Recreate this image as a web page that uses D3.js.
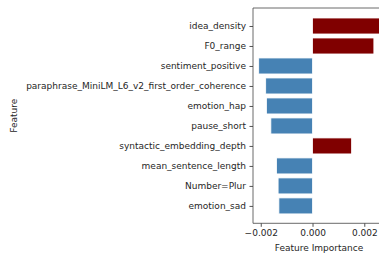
<!DOCTYPE html>
<html>
<head>
<meta charset="utf-8">
<script src="https://cdn.jsdelivr.net/npm/d3@7"></script>
<style>
  body { margin: 0; background: #fff; }
  text { font-family: "DejaVu Sans", sans-serif; fill: #262626; }
</style>
</head>
<body>
<svg id="chart"></svg>
<script>
var features = ["idea_density", "F0_range", "sentiment_positive",
    "paraphrase_MiniLM_L6_v2_first_order_coherence", "emotion_hap", "pause_short",
    "syntactic_embedding_depth", "mean_sentence_length", "Number=Plur", "emotion_sad"];
var importance = [0.0027, 0.00237, -0.00208, -0.00181, -0.00178, -0.00161,
    0.00151, -0.00139, -0.00133, -0.00130];
var xTicks = [-0.002, 0.000, 0.002];

var W = 379, H = 257;
var plotLeft = 253, plotTop = 8, plotRight = 385, plotBottom = 223.3;
var fontSize = "9px";

var svg = d3.select("#chart").attr("width", W).attr("height", H);

var x = d3.scaleLinear().domain([-0.0023, 0.0028]).range([plotLeft, plotRight]);
// matplotlib-style y limits: bars at 0..9, margins around
var y = d3.scaleLinear().domain([-0.9, 9.87]).range([plotTop, plotBottom]);
var barH = y(0.4) - y(-0.4);

var g = svg.append("g");

g.selectAll(".bar")
    .data(features)
    .enter().append("rect")
    .attr("class", "bar")
    .attr("x", function(d, i) { return x(Math.min(0, importance[i])); })
    .attr("y", function(d, i) { return y(i) - barH / 2; })
    .attr("width", function(d, i) { return Math.abs(x(importance[i]) - x(0)); })
    .attr("height", barH)
    .attr("fill", function(d, i) { return importance[i] > 0 ? "#800000" : "#4682b4"; })
    .attr("stroke", "#fff")
    .attr("stroke-width", 0.8);

// y axis
var yAxis = d3.axisLeft(y)
    .tickValues(d3.range(features.length))
    .tickFormat(function(i) { return features[i]; })
    .tickSize(3.5)
    .tickPadding(3.5);
var ya = svg.append("g").attr("transform", "translate(" + plotLeft + ",0)").call(yAxis);
ya.select(".domain").remove();
ya.selectAll("line").attr("stroke", "#262626").attr("stroke-width", 0.8);
ya.selectAll("text").style("font-size", fontSize).attr("fill", "#262626");

// x axis
var xAxis = d3.axisBottom(x)
    .tickValues(xTicks)
    .tickFormat(function(d) { return d3.format(".3f")(d).replace("-", "\u2212"); })
    .tickSize(3.5)
    .tickPadding(3);
var xa = svg.append("g").attr("transform", "translate(0," + plotBottom + ")").call(xAxis);
xa.select(".domain").remove();
xa.selectAll("line").attr("stroke", "#262626").attr("stroke-width", 0.8);
xa.selectAll("text").style("font-size", fontSize).attr("fill", "#262626");

// spines (left, bottom, top; right is off the picture)
svg.append("line").attr("x1", plotLeft).attr("x2", plotLeft).attr("y1", plotTop).attr("y2", plotBottom)
    .attr("stroke", "#444").attr("stroke-width", 0.8);
svg.append("line").attr("x1", plotLeft).attr("x2", plotRight).attr("y1", plotBottom).attr("y2", plotBottom)
    .attr("stroke", "#444").attr("stroke-width", 0.8);
svg.append("line").attr("x1", plotLeft).attr("x2", plotRight).attr("y1", plotTop).attr("y2", plotTop)
    .attr("stroke", "#444").attr("stroke-width", 0.8);

// axis labels
svg.append("text")
    .attr("x", (plotLeft + plotRight) / 2)
    .attr("y", 250.5)
    .attr("text-anchor", "middle")
    .style("font-size", fontSize)
    .text("Feature Importance");

svg.append("text")
    .attr("transform", "translate(17," + (plotTop + plotBottom) / 2 + ") rotate(-90)")
    .attr("text-anchor", "middle")
    .style("font-size", fontSize)
    .text("Feature");
</script>
</body>
</html>
